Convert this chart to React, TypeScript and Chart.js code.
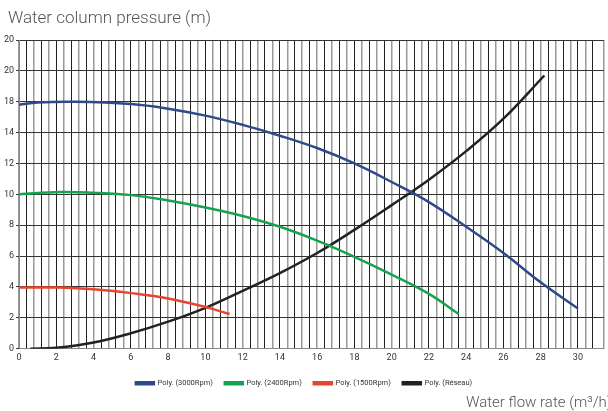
import React, { useEffect, useRef } from "react";
import { Chart, registerables } from "chart.js";

Chart.register(...registerables);

const yTickLabels = ["0", "2", "4", "6", "8", "10", "12", "14", "18", "20", "20"];

const flow3000 = [0, 1, 3, 6, 8, 10, 12, 14, 16, 18, 20, 22, 24, 26, 28, 30];
const head3000 = [15.8, 15.95, 16.0, 15.85, 15.55, 15.1, 14.5, 13.8, 13.0, 12.0, 10.8, 9.5, 7.9, 6.2, 4.3, 2.6];

const flow2400 = [0, 2.2, 4, 6, 8, 10, 12, 14, 16, 18, 20, 22, 23.6];
const head2400 = [10.0, 10.15, 10.1, 9.95, 9.6, 9.15, 8.6, 7.9, 7.0, 5.95, 4.8, 3.55, 2.25];

const flow1500 = [0, 2, 4, 6, 8, 10, 11.3];
const head1500 = [3.96, 3.96, 3.85, 3.6, 3.25, 2.7, 2.25];

const flowNet = [0.6, 2, 4, 6, 8, 10, 12, 14, 16, 18, 20, 22, 24, 26, 28.2];
const headNet = [0, 0.06, 0.4, 1.0, 1.75, 2.65, 3.75, 4.9, 6.2, 7.7, 9.3, 10.95, 12.8, 14.9, 17.7];

const seriesNames = ["Poly. (3000Rpm)", "Poly. (2400Rpm)", "Poly. (1500Rpm)", "Poly. (Réseau)"];
const seriesColors = ["#2f4a8a", "#16a34f", "#e8452c", "#222222"];

const yTitle = "Water column pressure (m)";
const xTitle = "Water flow rate (m³/h)";

const toPoints = (xs: number[], ys: number[]) => xs.map((x, i) => ({ x, y: ys[i] }));

export default function App() {
  const ref = useRef<HTMLCanvasElement | null>(null);

  useEffect(() => {
    document.body.style.margin = "0";
    const canvas = ref.current;
    if (!canvas) return;

    const titlesPlugin = {
      id: "titlesPlugin",
      afterDraw(chart: any) {
        const c = chart.ctx;
        c.save();
        c.fillStyle = "#555";
        c.textBaseline = "alphabetic";
        c.textAlign = "left";
        c.font = "300 17px Roboto";
        c.fillText(yTitle, 8, 23);
        c.font = "300 15px Roboto";
        c.fillText(xTitle, 466, 407);
        c.restore();
      },
    };

    const datasets = [
      [flow3000, head3000],
      [flow2400, head2400],
      [flow1500, head1500],
      [flowNet, headNet],
    ].map(([xs, ys], i) => ({
      label: seriesNames[i],
      data: toPoints(xs, ys),
      borderColor: seriesColors[i],
      backgroundColor: seriesColors[i],
      borderWidth: 2.5,
      pointRadius: 0,
      tension: 0.4,
      fill: false,
    }));

    const chart = new Chart(canvas, {
      type: "line",
      data: { datasets },
      plugins: [titlesPlugin],
      options: {
        animation: false,
        responsive: false,
        layout: { padding: { left: 2, right: 2, top: 40, bottom: 14 } },
        plugins: {
          legend: {
            position: "bottom",
            labels: {
              boxWidth: 18,
              boxHeight: 2,
              padding: 12,
              color: "#333",
              font: { family: "Roboto", size: 7.5 },
            },
          },
          tooltip: { enabled: false },
        },
        scales: {
          x: {
            type: "linear",
            min: 0,
            max: 31.4,
            border: { color: "#888" },
            grid: {
              drawTicks: false,
              color: (ctx: any) => (ctx.index % 2 === 0 ? "#9a9a9a" : "#222"),
              lineWidth: (ctx: any) => (ctx.index % 2 === 0 ? 1.5 : 1),
            },
            ticks: {
              stepSize: 0.4,
              autoSkip: false,
              maxRotation: 0,
              padding: 4,
              color: "#333",
              font: { family: "Roboto", size: 9 },
              callback: (v: any) => {
                const n = Number(v);
                const r = Math.round(n / 2) * 2;
                return Math.abs(n - r) < 1e-6 ? String(r) : "";
              },
            },
          },
          y: {
            type: "linear",
            min: 0,
            max: 20,
            border: { color: "#888" },
            grid: { drawTicks: true, tickLength: 3, color: "#333", lineWidth: 1 },
            ticks: {
              stepSize: 2,
              padding: 2,
              color: "#333",
              font: { family: "Roboto", size: 9 },
              callback: (_v: any, i: number) => yTickLabels[i] ?? "",
            },
          },
        },
      },
    });

    return () => chart.destroy();
  }, []);

  return <canvas ref={ref} width={608} height={411} style={{ display: "block" }} />;
}
